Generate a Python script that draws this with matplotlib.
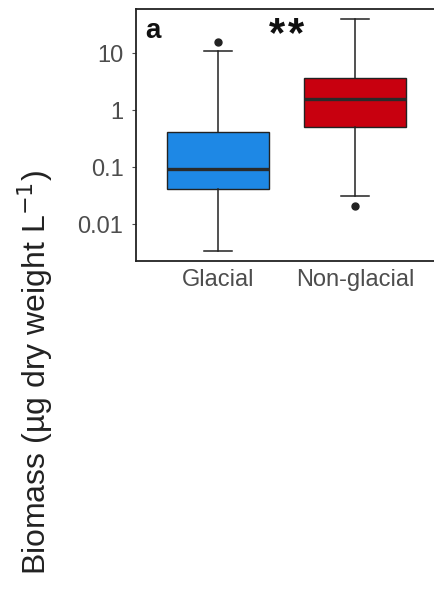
import matplotlib
matplotlib.use("Agg")
import matplotlib.pyplot as plt

plt.rcParams["font.family"] = ["Liberation Sans", "DejaVu Sans"]

# Biomass summary per site type (µg dry weight per litre)
categories = ["Glacial", "Non-glacial"]
medians = [0.092, 1.56]
q1 = [0.041, 0.50]
q3 = [0.41, 3.6]
whisker_low = [0.0034, 0.031]
whisker_high = [10.8, 39.7]
outliers = [[15.6], [0.021]]
box_colors = ["#1e88e5", "#c8000f"]

y_ticks = [0.01, 0.1, 1, 10]
y_tick_labels = ["0.01", "0.1", "1", "10"]
panel_tag = "a"
significance = "**"

fig = plt.figure(figsize=(4.34, 5.90), dpi=100)
ax = fig.add_axes([136 / 434, 1 - 261 / 590, 301 / 434, 252 / 590])

stats = []
for i, name in enumerate(categories):
    stats.append(dict(label=name, med=medians[i], q1=q1[i], q3=q3[i],
                      whislo=whisker_low[i], whishi=whisker_high[i],
                      fliers=outliers[i]))

edge = "#222222"
bp = ax.bxp(stats, positions=[1, 2], widths=0.75, capwidths=0.2,
            patch_artist=True, showfliers=True,
            boxprops=dict(edgecolor=edge, linewidth=1.0),
            medianprops=dict(color="#2a2a2a", linewidth=2.4),
            whiskerprops=dict(color=edge, linewidth=1.1),
            capprops=dict(color=edge, linewidth=1.1),
            flierprops=dict(marker="o", markerfacecolor="#222222",
                            markeredgecolor="#222222", markersize=5))
for patch, c in zip(bp["boxes"], box_colors):
    patch.set_facecolor(c)

ax.set_yscale("log")
ax.set_ylim(0.002244, 59.2)
ax.set_xlim(0.4, 2.6)
ax.set_yticks(y_ticks)
ax.set_yticklabels(y_tick_labels)
ax.minorticks_off()
ax.set_xticks([1, 2])
ax.set_xticklabels(categories)

ax.tick_params(axis="y", length=3, width=0.8, color="#4d4d4d", pad=6,
               labelsize=17, labelcolor="#4d4d4d")
ax.tick_params(axis="x", length=0, pad=6, labelsize=17, labelcolor="#4d4d4d")
for s in ax.spines.values():
    s.set_linewidth(1.3)
    s.set_color("#222222")
ax.spines["right"].set_visible(False)

ax.text((145 - 136) / 301, (261 - 38) / 252, panel_tag, transform=ax.transAxes,
        fontsize=20, fontweight="bold", ha="left", va="baseline", color="#111111")

# significance stars between the two groups, spaced apart
n_stars = len(significance)
step = 0.14
for k, ch in enumerate(significance):
    xpos = 1.5 + (k - (n_stars - 1) / 2) * step
    ax.text(xpos, (261 - 46) / 252, ch,
            transform=ax.get_xaxis_transform(), fontsize=30, fontweight="bold",
            ha="center", va="baseline", color="#111111")

fig.text(35 / 434, 1 - 373 / 590, "Biomass (µg dry weight L$^{-1}$)",
         rotation=90, ha="center", va="center", fontsize=23, color="#222222")

fig.savefig("out.png", dpi=100)
